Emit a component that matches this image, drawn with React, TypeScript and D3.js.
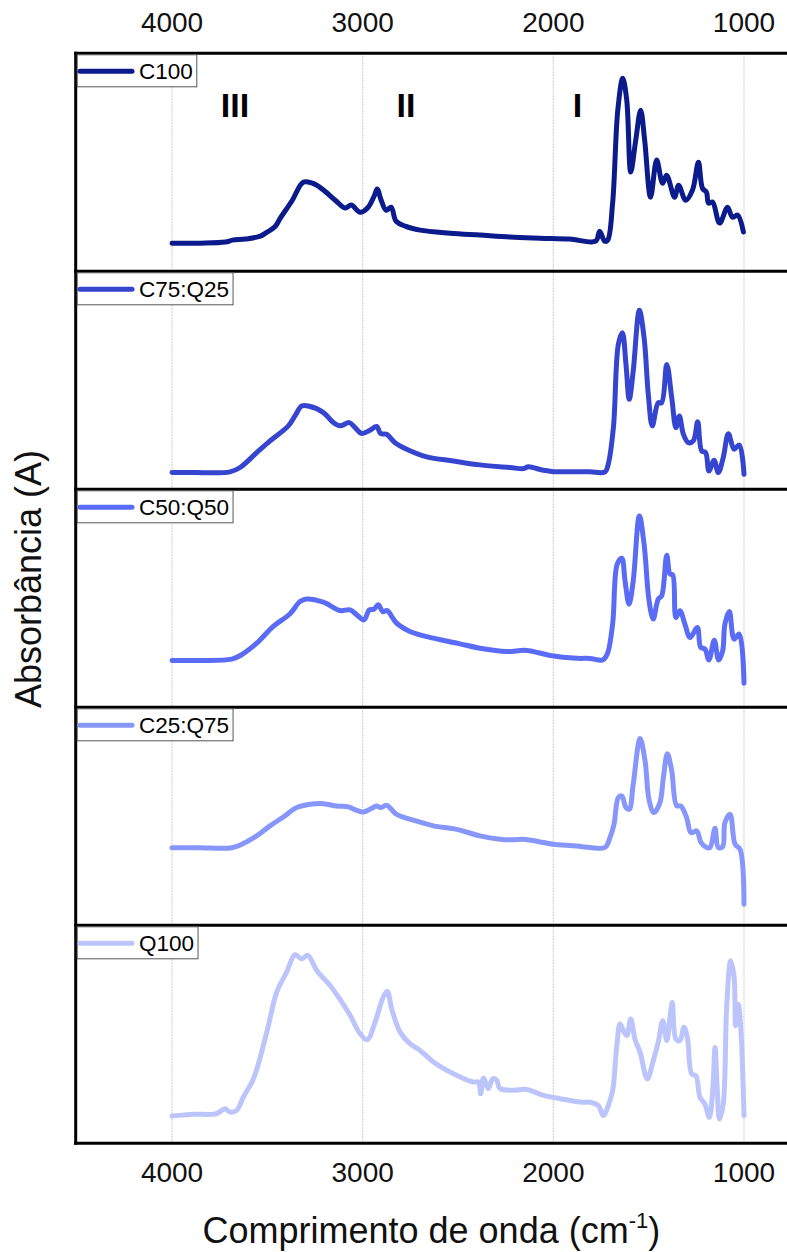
import React, { useEffect, useRef } from "react";
import * as d3 from "d3";

const wavenumberTicks = [4000, 3000, 2000, 1000];
const seriesNames = ["C100", "C75:Q25", "C50:Q50", "C25:Q75", "Q100"];
const regionLabels = ["III", "II", "I"];
const regionWavenumbers = [3670, 2773, 1873];

const c100: [number, number][] = [
  [4000, 12.9], [3850, 12.9], [3720, 13.4], [3683, 14.3], [3615, 14.8], [3537, 16.1], [3510, 17.5],
  [3458, 20.7], [3432, 24.4], [3369, 32.6], [3312, 40.9], [3264, 40.4], [3212, 37.7], [3144, 32.6],
  [3092, 29.0], [3060, 30.4], [3013, 27.1], [2971, 29.4], [2940, 34.5], [2924, 37.7], [2903, 32.6],
  [2877, 28.0], [2851, 29.4], [2825, 23.0], [2777, 20.7], [2699, 18.9], [2542, 17.5], [2385, 16.6],
  [2228, 15.7], [2071, 15.2], [1914, 14.8], [1778, 13.8], [1757, 18.4], [1731, 13.8], [1715, 14.3],
  [1689, 31.3], [1662, 73.9], [1636, 88.5], [1615, 78.5], [1594, 45.5], [1568, 60.1], [1542, 73.9],
  [1521, 60.1], [1490, 34.0], [1458, 51.0], [1427, 40.4], [1406, 44.1], [1364, 34.0], [1343, 39.5],
  [1306, 32.6], [1270, 37.3], [1239, 50.0], [1218, 38.1], [1197, 36.3], [1186, 31.3], [1165, 31.8],
  [1128, 22.1], [1086, 29.4], [1061, 24.8], [1034, 25.8], [1003, 18.0],
];

const c75q25: [number, number][] = [
  [4000, 7.7], [3888, 7.7], [3696, 8.0], [3643, 10.0], [3556, 16.8], [3486, 22.2], [3390, 29.1],
  [3355, 33.7], [3320, 38.2], [3285, 38.2], [3206, 35.2], [3154, 30.6], [3119, 29.1], [3070, 30.6],
  [3040, 28.3], [3005, 25.6], [2962, 27.1], [2927, 28.8], [2906, 25.6], [2874, 25.2], [2830, 21.4],
  [2769, 18.4], [2664, 14.9], [2524, 13.0], [2385, 11.2], [2227, 10.0], [2157, 9.5], [2131, 10.3],
  [2052, 8.7], [2000, 8.1], [1878, 8.1], [1808, 8.0], [1729, 8.0], [1712, 11.5], [1685, 28.3],
  [1659, 66.5], [1638, 71.8], [1619, 57.3], [1602, 41.3], [1581, 54.3], [1549, 82.1], [1524, 69.5],
  [1502, 43.6], [1481, 29.1], [1450, 39.7], [1432, 39.7], [1405, 57.3], [1379, 42.0], [1357, 28.3],
  [1339, 33.6], [1318, 25.3], [1292, 21.4], [1266, 22.2], [1243, 31.0], [1222, 17.6], [1201, 16.8],
  [1184, 8.4], [1157, 13.3], [1135, 7.7], [1109, 14.5], [1082, 25.5], [1052, 18.4], [1025, 20.3],
  [1000, 6.9],
];

const c50q50: [number, number][] = [
  [4000, 21.5], [3853, 21.5], [3687, 22.1], [3635, 24.1], [3556, 29.4], [3469, 37.1], [3381, 42.9],
  [3329, 48.5], [3294, 49.7], [3206, 48.2], [3119, 44.4], [3066, 44.7], [3031, 42.4], [2993, 40.1],
  [2965, 44.7], [2941, 45.0], [2918, 47.0], [2895, 43.9], [2871, 44.4], [2848, 41.7], [2822, 38.6],
  [2752, 34.8], [2629, 31.7], [2489, 29.1], [2385, 27.1], [2245, 25.6], [2140, 26.1], [2017, 23.8],
  [1878, 22.5], [1808, 22.4], [1741, 21.7], [1717, 24.4], [1689, 38.2], [1665, 65.7], [1641, 68.4],
  [1624, 58.0], [1603, 47.3], [1581, 58.0], [1549, 87.8], [1524, 74.8], [1498, 48.9], [1476, 40.5],
  [1450, 49.6], [1432, 51.1], [1405, 69.8], [1388, 61.1], [1374, 60.8], [1357, 41.2], [1336, 44.3],
  [1310, 38.2], [1283, 32.0], [1245, 36.6], [1227, 27.5], [1205, 26.7], [1184, 21.7], [1156, 30.8],
  [1133, 21.7], [1112, 25.9], [1100, 38.2], [1077, 44.0], [1052, 31.3], [1025, 33.6], [1000, 11.0],
];

const c25q75: [number, number][] = [
  [4000, 35.6], [3853, 35.6], [3687, 35.6], [3626, 37.5], [3556, 41.0], [3486, 45.6], [3416, 49.7],
  [3346, 54.0], [3276, 55.5], [3206, 55.8], [3136, 54.7], [3075, 54.3], [3031, 52.7], [2997, 52.0],
  [2962, 53.2], [2927, 54.7], [2906, 54.0], [2874, 55.0], [2822, 50.9], [2734, 48.2], [2629, 45.6],
  [2507, 44.0], [2385, 41.0], [2280, 39.5], [2210, 39.2], [2157, 39.5], [2052, 38.0], [2000, 37.2],
  [1878, 36.4], [1808, 35.7], [1729, 35.7], [1703, 40.2], [1682, 46.3], [1659, 58.6], [1641, 59.3],
  [1619, 54.0], [1602, 53.2], [1581, 64.7], [1545, 85.7], [1519, 75.4], [1497, 57.1], [1472, 51.7],
  [1441, 56.3], [1423, 67.7], [1402, 78.7], [1379, 70.8], [1353, 54.8], [1332, 54.8], [1301, 49.4],
  [1278, 42.5], [1248, 43.3], [1225, 37.9], [1196, 35.7], [1178, 35.7], [1152, 44.5], [1135, 35.7],
  [1112, 36.0], [1100, 47.1], [1073, 50.9], [1047, 37.2], [1021, 34.9], [1000, 9.7],
];

const q100: [number, number][] = [
  [4000, 12.5], [3888, 13.3], [3766, 13.6], [3722, 15.9], [3696, 14.3], [3661, 15.1], [3626, 21.2],
  [3573, 29.6], [3503, 51.0], [3451, 69.3], [3399, 78.5], [3355, 86.5], [3320, 84.6], [3288, 86.2],
  [3241, 79.3], [3171, 72.4], [3119, 66.0], [3066, 58.7], [3014, 50.3], [2976, 47.5], [2935, 55.6],
  [2892, 67.1], [2871, 69.7], [2848, 61.7], [2804, 51.0], [2752, 45.7], [2699, 42.6], [2629, 37.3],
  [2524, 31.9], [2420, 28.1], [2393, 28.1], [2381, 22.7], [2367, 29.9], [2341, 25.1], [2318, 29.6],
  [2297, 28.9], [2280, 25.1], [2210, 24.3], [2140, 24.7], [2052, 22.0], [1965, 20.5], [1860, 18.9],
  [1808, 18.8], [1764, 17.3], [1738, 12.7], [1712, 17.3], [1689, 24.2], [1668, 44.0], [1650, 54.7],
  [1629, 50.9], [1615, 49.4], [1594, 57.0], [1572, 47.8], [1545, 41.7], [1507, 29.5], [1476, 37.9],
  [1450, 46.3], [1426, 56.2], [1405, 47.1], [1388, 57.7], [1376, 64.6], [1357, 47.8], [1336, 47.1],
  [1315, 53.2], [1297, 48.6], [1274, 31.8], [1252, 31.0], [1231, 21.1], [1205, 18.0], [1182, 11.9],
  [1164, 24.2], [1152, 44.0], [1140, 24.2], [1129, 11.1], [1109, 18.0], [1091, 62.3], [1070, 83.7],
  [1052, 76.1], [1044, 53.9], [1030, 63.8], [1017, 53.2], [1000, 12.7],
];

const seriesData = [c100, c75q25, c50q50, c25q75, q100];
const seriesColors = ["#0b1b8c", "#3545cf", "#5a6bf5", "#8796fa", "#bcc5fb"];

export default function App() {
  const ref = useRef<SVGSVGElement>(null);

  useEffect(() => {
    const svg = d3.select(ref.current);
    svg.selectAll("*").remove();
    const W = 787;
    const font = "'Liberation Sans', Arial, sans-serif";
    const frameLeft = 75.7;
    const plotTop = 53.3;
    const panelH = 218;
    const plotBottom = plotTop + panelH * seriesData.length;
    const x = d3.scaleLinear().domain([4500, 1000]).range([76.7, 744]);

    svg.append("rect").attr("width", W).attr("height", 1252).attr("fill", "#fff");

    // gridlines
    svg.append("g").selectAll("line").data(wavenumberTicks).join("line")
      .attr("x1", (d) => x(d)).attr("x2", (d) => x(d))
      .attr("y1", plotTop).attr("y2", plotBottom)
      .attr("stroke", "#d2d2d2").attr("stroke-width", 1.2).attr("stroke-dasharray", "2 1");

    // curves
    seriesData.forEach((data, i) => {
      const top = plotTop + i * panelH;
      const y = d3.scaleLinear().domain([0, 100]).range([top + panelH, top]);
      const line = d3.line<[number, number]>()
        .x((d) => x(d[0])).y((d) => y(d[1]))
        .curve(d3.curveCatmullRom.alpha(0.5));
      svg.append("path").datum(data).attr("d", line as any)
        .attr("fill", "none").attr("stroke", seriesColors[i]).attr("stroke-width", 5)
        .attr("stroke-linejoin", "round").attr("stroke-linecap", "round");
    });

    // frame
    const fr = svg.append("g");
    d3.range(seriesData.length + 1).forEach((k) => {
      const yy = plotTop + k * panelH;
      fr.append("line").attr("x1", frameLeft - 1.5).attr("x2", W + 2)
        .attr("y1", yy).attr("y2", yy).attr("stroke", "#000").attr("stroke-width", 3);
    });
    fr.append("line").attr("x1", frameLeft).attr("x2", frameLeft)
      .attr("y1", plotTop - 1.5).attr("y2", plotBottom + 1.5)
      .attr("stroke", "#000").attr("stroke-width", 3);

    // legends
    seriesNames.forEach((name, i) => {
      const top = plotTop + i * panelH;
      const g = svg.append("g");
      const rect = g.append("rect").attr("x", frameLeft + 1.5).attr("y", top + 1.5)
        .attr("height", 32).attr("fill", "#fff").attr("stroke", "#555").attr("stroke-width", 1);
      g.append("line").attr("x1", 80).attr("x2", 132).attr("y1", top + 18).attr("y2", top + 18)
        .attr("stroke", seriesColors[i]).attr("stroke-width", 5).attr("stroke-linecap", "round");
      const t = g.append("text").attr("x", 139).attr("y", top + 26)
        .attr("font-family", font).attr("font-size", 22.5).attr("fill", "#000").text(name);
      const len = (t.node() as SVGTextElement).getComputedTextLength();
      rect.attr("width", 139 + len + 4 - (frameLeft + 1.5));
    });

    // region labels
    regionLabels.forEach((lab, i) => {
      svg.append("text").attr("x", x(regionWavenumbers[i])).attr("y", plotTop + 64)
        .attr("text-anchor", "middle").attr("font-family", font).attr("font-weight", "bold")
        .attr("font-size", 34).attr("fill", "#000").text(lab);
    });

    // tick labels
    [31.7, 1182].forEach((yy) => {
      svg.append("g").selectAll("text").data(wavenumberTicks).join("text")
        .attr("x", (d) => x(d)).attr("y", yy).attr("text-anchor", "middle")
        .attr("font-family", font).attr("font-size", 28).attr("fill", "#111")
        .text((d) => String(d));
    });

    // x title
    const xt = svg.append("text").attr("x", (frameLeft + W) / 2).attr("y", 1243)
      .attr("text-anchor", "middle").attr("font-family", font).attr("font-size", 36).attr("fill", "#111");
    xt.append("tspan").text("Comprimento de onda (cm");
    xt.append("tspan").attr("font-size", 22).attr("dy", -15).text("-1");
    xt.append("tspan").attr("dy", 15).text(")");

    // y title
    svg.append("text").attr("transform", "translate(41,579) rotate(-90)")
      .attr("text-anchor", "middle").attr("font-family", font).attr("font-size", 36).attr("fill", "#111")
      .text("Absorbância (A)");
  }, []);

  return (
    <svg ref={ref} width={787} height={1252}
      style={{ position: "absolute", left: 0, top: 0, display: "block" }} />
  );
}
